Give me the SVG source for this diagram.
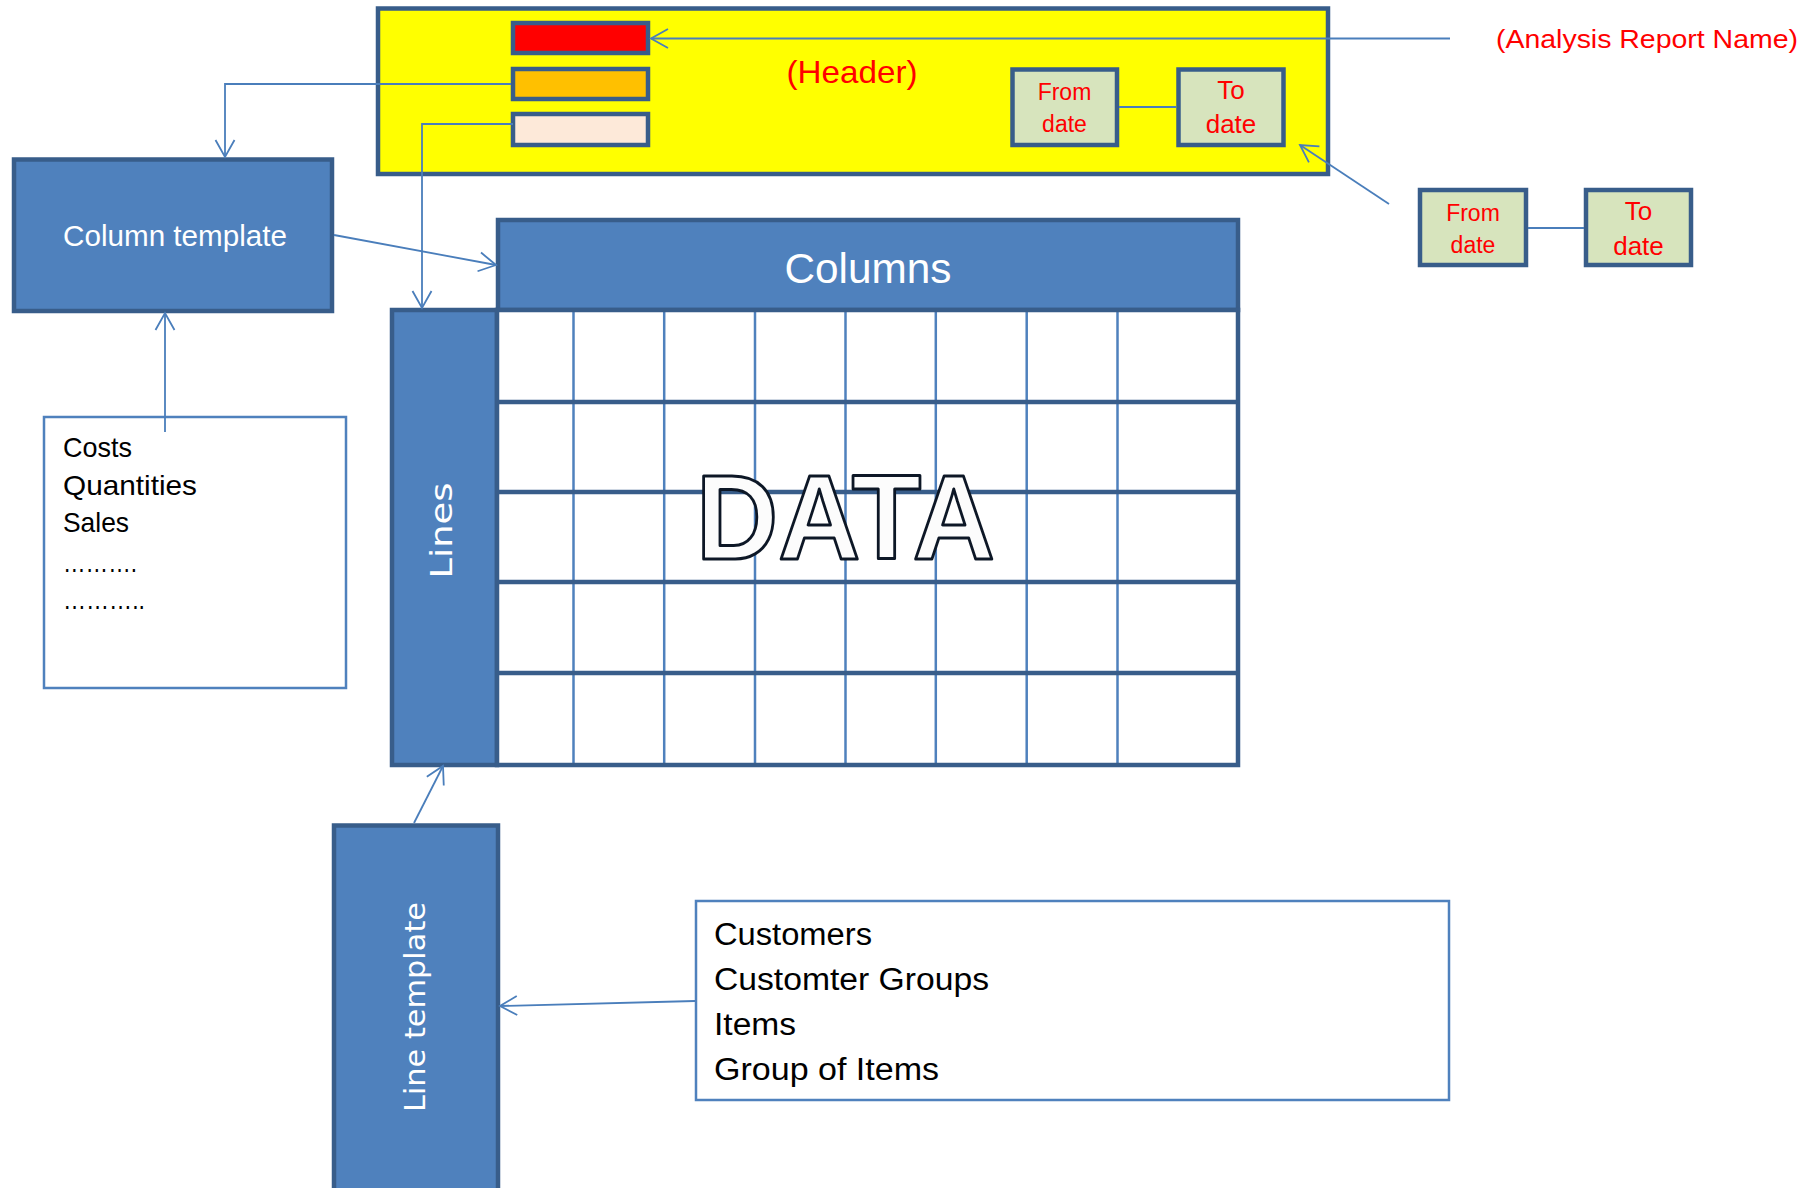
<svg xmlns="http://www.w3.org/2000/svg" width="1820" height="1188" viewBox="0 0 1820 1188">
<style>
.box{fill:#4F81BD;stroke:#385D8A;stroke-width:4.5}
.date{fill:#D7E4BD;stroke:#385D8A;stroke-width:4.5}
.bar{stroke:#385D8A;stroke-width:4.5}
.list{fill:#FFFFFF;stroke:#4F81BD;stroke-width:2.5}
.con{fill:none;stroke:#4A7EBB;stroke-width:1.8}
.thick{stroke:#385D8A;stroke-width:4.5}
.thin{stroke:#4F81BD;stroke-width:2.5}
.red{fill:#FF0000;font-family:"Liberation Sans",Arial,sans-serif}
.wt{fill:#FFFFFF;font-family:"Liberation Sans",Arial,sans-serif}
.wv{fill:#FFFFFF;font-family:"DejaVu Sans",Verdana,sans-serif}
.bk{fill:#000000;font-family:"Liberation Sans",Arial,sans-serif}
</style>
<defs>
<marker id="arr" viewBox="-20 -12 22 24" refX="0" refY="0" markerWidth="22" markerHeight="24" markerUnits="userSpaceOnUse" orient="auto">
<path d="M-17,-9.5 L0,0 L-17,9.5" fill="none" stroke="#4A7EBB" stroke-width="1.8"/>
</marker>
</defs>
<rect width="1820" height="1188" fill="#FFFFFF"/>

<g id="header">
<rect x="378" y="8.5" width="950" height="165.5" fill="#FFFF00" stroke="#385D8A" stroke-width="4.5"/>
<rect class="bar" x="513" y="23" width="135" height="30" fill="#FF0000"/>
<rect class="bar" x="513" y="69" width="135" height="30" fill="#FFC000"/>
<rect class="bar" x="513" y="114" width="135" height="31" fill="#FDE9D9"/>
<text class="red" x="852" y="83" font-size="32" text-anchor="middle" textLength="131" lengthAdjust="spacingAndGlyphs">(Header)</text>
</g>

<g id="header-from-date">
<rect class="date" x="1012.5" y="69.5" width="104.5" height="75.5"/>
<text class="red" x="1064.5" y="100" font-size="23" text-anchor="middle">From</text>
<text class="red" x="1064.5" y="132" font-size="23" text-anchor="middle">date</text>
</g>
<g id="header-to-date">
<rect class="date" x="1178.5" y="69.5" width="105" height="75.5"/>
<text class="red" x="1231" y="99" font-size="26" text-anchor="middle">To</text>
<text class="red" x="1231" y="133" font-size="26" text-anchor="middle">date</text>
</g>

<g id="report-name">
<text class="red" x="1496" y="47.5" font-size="26" textLength="302" lengthAdjust="spacingAndGlyphs">(Analysis Report Name)</text>
</g>

<g id="from-date">
<rect class="date" x="1420" y="190" width="106" height="75"/>
<text class="red" x="1473" y="221" font-size="23" text-anchor="middle">From</text>
<text class="red" x="1473" y="253" font-size="23" text-anchor="middle">date</text>
</g>
<g id="to-date">
<rect class="date" x="1586" y="190" width="105" height="75"/>
<text class="red" x="1638.5" y="220" font-size="26" text-anchor="middle">To</text>
<text class="red" x="1638.5" y="255" font-size="26" text-anchor="middle">date</text>
</g>

<g id="column-template">
<rect class="box" x="14" y="159.5" width="318" height="151.5"/>
<text class="wt" x="63" y="246" font-size="29" textLength="224" lengthAdjust="spacingAndGlyphs">Column template</text>
</g>

<g id="columns">
<rect class="box" x="498" y="220" width="740" height="90"/>
<text class="wt" x="868" y="283" font-size="43" text-anchor="middle" textLength="167" lengthAdjust="spacingAndGlyphs">Columns</text>
</g>

<g id="lines">
<rect class="box" x="392" y="310" width="105" height="455"/>
<text class="wv" transform="translate(452,530.5) rotate(-90)" font-size="31" text-anchor="middle" textLength="96" lengthAdjust="spacingAndGlyphs">Lines</text>
</g>

<g id="data-grid">
<rect x="497" y="310" width="741" height="455" fill="#FFFFFF"/>
<line class="thin" x1="573.5" y1="310" x2="573.5" y2="765"/>
<line class="thin" x1="664.2" y1="310" x2="664.2" y2="765"/>
<line class="thin" x1="755" y1="310" x2="755" y2="765"/>
<line class="thin" x1="845.5" y1="310" x2="845.5" y2="765"/>
<line class="thin" x1="935.8" y1="310" x2="935.8" y2="765"/>
<line class="thin" x1="1026.7" y1="310" x2="1026.7" y2="765"/>
<line class="thin" x1="1117.5" y1="310" x2="1117.5" y2="765"/>
<line class="thick" x1="497" y1="402" x2="1238" y2="402"/>
<line class="thick" x1="497" y1="492" x2="1238" y2="492"/>
<line class="thick" x1="497" y1="582" x2="1238" y2="582"/>
<line class="thick" x1="497" y1="673" x2="1238" y2="673"/>
<rect x="497" y="310" width="741" height="455" fill="none" stroke="#385D8A" stroke-width="4.5"/>
<text x="696" y="559" font-family="'Liberation Sans',Arial,sans-serif" font-weight="bold" font-size="121" fill="#FCFCFC" stroke="#0D1726" stroke-width="3" stroke-linejoin="round" textLength="299" lengthAdjust="spacingAndGlyphs">DATA</text>
</g>

<g id="measures">
<rect class="list" x="44" y="417" width="302" height="271"/>
<text class="bk" x="63" y="457" font-size="28" textLength="69" lengthAdjust="spacingAndGlyphs">Costs</text>
<text class="bk" x="63" y="495" font-size="28" textLength="134" lengthAdjust="spacingAndGlyphs">Quantities</text>
<text class="bk" x="63" y="532" font-size="28" textLength="66" lengthAdjust="spacingAndGlyphs">Sales</text>
<text class="bk" x="63" y="572" font-size="28" textLength="74" lengthAdjust="spacingAndGlyphs">……….</text>
<text class="bk" x="63" y="609" font-size="28" textLength="82" lengthAdjust="spacingAndGlyphs">………..</text>
</g>

<g id="line-template">
<rect class="box" x="334" y="825.5" width="164" height="400"/>
<text class="wv" transform="translate(425,1007) rotate(-90)" font-size="28" text-anchor="middle" textLength="210" lengthAdjust="spacingAndGlyphs">Line  template</text>
</g>

<g id="dimensions">
<rect class="list" x="696" y="901" width="753" height="199"/>
<text class="bk" x="714" y="945" font-size="31" textLength="158" lengthAdjust="spacingAndGlyphs">Customers</text>
<text class="bk" x="714" y="990" font-size="31" textLength="275" lengthAdjust="spacingAndGlyphs">Customter Groups</text>
<text class="bk" x="714" y="1035" font-size="31" textLength="82" lengthAdjust="spacingAndGlyphs">Items</text>
<text class="bk" x="714" y="1080" font-size="31" textLength="225" lengthAdjust="spacingAndGlyphs">Group of Items</text>
</g>

<g id="connectors">
<path class="con" d="M1450,38.5 L651,38.5" marker-end="url(#arr)"/>
<path class="con" d="M511,84 L225,84 L225,157" marker-end="url(#arr)"/>
<path class="con" d="M513,124 L422,124 L422,308" marker-end="url(#arr)"/>
<path class="con" d="M334,235 L496,265" marker-end="url(#arr)"/>
<path class="con" d="M165,432 L165,313" marker-end="url(#arr)"/>
<path class="con" d="M1389,204 L1300,145" marker-end="url(#arr)"/>
<path class="con" d="M414,823 L443,766" marker-end="url(#arr)"/>
<path class="con" d="M695,1001 L500,1006" marker-end="url(#arr)"/>
<path class="con" d="M1119,107 L1176,107"/>
<path class="con" d="M1528,228 L1584,228"/>
</g>
</svg>
